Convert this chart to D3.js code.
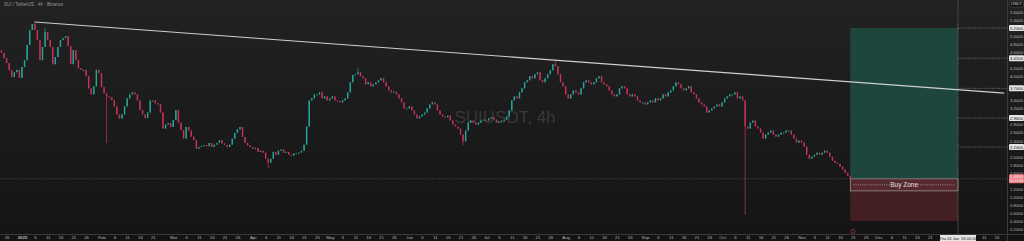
<!DOCTYPE html>
<html><head><meta charset="utf-8">
<script src="https://cdn.jsdelivr.net/npm/d3@7"></script>
<style>html,body{margin:0;padding:0;background:#181818;overflow:hidden}svg{display:block}</style>
</head><body><svg id="c" width="1024" height="241"></svg>
<script>
// ---------- DATA (daily closes, USDT) ----------
const startDate = "2024-12-23";
const closesDec24 = [4.65,4.58,4.45,4.33,4.15,3.98,4.10,4.16,3.96];
const closesJan = [4.23,4.40,4.78,5.15,5.30,5.15,4.90,4.40,4.73,5.10,4.90,4.73,4.30,4.48,4.73,4.90,4.95,5.00,4.75,4.30,4.65,4.40,4.20,4.16,4.16,4.00,3.70,3.55,3.75,4.16,4.08];
const closesFeb = [3.73,3.58,3.50,3.48,3.41,3.25,3.05,2.95,3.05,3.25,3.45,3.55,3.60,3.55,3.40,3.16,3.05,2.96,3.10,3.40,3.40,3.33,3.30,3.10,2.70,2.80,2.84,2.74];
const closesMar = [2.91,3.16,2.85,2.66,2.45,2.74,2.65,2.50,2.41,2.20,2.24,2.27,2.29,2.26,2.34,2.24,2.30,2.34,2.41,2.33,2.29,2.24,2.30,2.45,2.59,2.68,2.74,2.49,2.34,2.28,2.24];
const closesApr = [2.20,2.22,2.12,2.15,2.10,1.95,1.85,1.95,2.12,2.05,2.15,2.18,2.10,2.12,2.05,2.03,2.08,2.08,2.10,2.15,2.30,2.75,3.40,3.45,3.55,3.55,3.60,3.45,3.50,3.40];
const closesMay = [3.45,3.50,3.40,3.38,3.35,3.40,3.45,3.60,3.85,4.03,4.05,4.10,4.00,3.95,3.80,3.85,3.75,3.80,3.85,3.90,3.95,3.85,3.75,3.65,3.60,3.62,3.55,3.45,3.35,3.20,3.20];
const closesJun = [3.25,3.15,3.05,2.95,3.00,3.05,3.10,3.20,3.30,3.35,3.30,3.15,3.05,3.00,2.98,3.02,2.90,2.80,2.75,2.70,2.55,2.38,2.65,2.85,2.90,2.85,2.80,2.85,2.90,2.92];
const closesJul = [2.90,2.95,2.98,2.92,2.85,2.88,2.90,2.92,3.00,3.15,3.40,3.50,3.45,3.60,3.70,3.85,3.90,4.00,3.95,4.05,4.10,3.90,3.85,3.95,4.05,4.15,4.30,4.25,4.05,3.85,3.75];
const closesAug = [3.55,3.45,3.55,3.65,3.60,3.55,3.70,3.85,3.90,3.85,3.80,3.85,3.95,4.00,3.85,3.80,3.75,3.65,3.55,3.50,3.55,3.70,3.75,3.70,3.55,3.50,3.55,3.50,3.40,3.35,3.35];
const closesSep = [3.30,3.35,3.40,3.35,3.45,3.40,3.45,3.55,3.50,3.60,3.65,3.75,3.85,3.80,3.70,3.65,3.70,3.75,3.60,3.55,3.45,3.35,3.30,3.25,3.10,3.15,3.20,3.25,3.30,3.25];
const closesOct = [3.35,3.45,3.50,3.55,3.55,3.60,3.45,3.50,3.40,2.75,2.70,2.85,2.90,2.75,2.70,2.60,2.45,2.55,2.60,2.65,2.55,2.50,2.55,2.60,2.60,2.65,2.65,2.55,2.45,2.35,2.40];
const closesNov = [2.35,2.25,2.05,1.95,2.00,2.05,2.10,2.05,2.10,2.15,2.10,2.00,1.90,1.85,1.82,1.75,1.68,1.60,1.52,1.45];
const wickHighs = [["2025-01-06",5.37],["2025-01-10",5.20],["2025-05-12",4.20],["2025-07-28",4.40]];
const wickLows  = [["2025-02-03",2.34],["2025-04-07",1.72],["2025-06-22",2.28],["2025-10-10",0.56]];

const priceTicks = [5.6,5.4,5.2,5.0,4.8,4.6,4.4,4.2,4.0,3.8,3.6,3.4,3.2,3.0,2.8,2.6,2.4,2.2,2.0,1.8,1.6,1.4,1.2,1.0,0.8,0.6,0.4,0.2];
const levelPrices = [5.20,4.45,3.70,2.96,2.24];
const levelLabels = ["5.2000","4.4500","3.7000","2.9600","2.2400"];
const currentPrice = 1.45;
const currentLabel = ["1.4500","02:13:45"];
const trendPoints = [["2025-01-06",5.35],["2026-01-19",3.58]];
const tradeStart = "2025-11-20", tradeEnd = "2026-01-01";
const targetPrice = 5.20, stopPrice = 0.40, buyZoneLow = 1.15;
const monthNames = ["Jan","Feb","Mar","Apr","May","Jun","Jul","Aug","Sep","Oct","Nov","Dec"];
const dayMarks = [6,11,16,21,26];
const crosshairDate = "2026-01-01";
const crosshairLabel = "Thu 01 Jan '26   00:00";

// ---------- SETUP ----------
const W = 1024, H = 241, plotR = 1007, plotB = 234;
const parse = d3.utcParse("%Y-%m-%d");
const closes = [].concat(closesDec24,closesJan,closesFeb,closesMar,closesApr,closesMay,closesJun,closesJul,closesAug,closesSep,closesOct,closesNov);
const t0 = parse(startDate);
const hiMap = new Map(wickHighs.map(d=>[d[0],d[1]]));
const loMap = new Map(wickLows.map(d=>[d[0],d[1]]));
const fmtD = d3.utcFormat("%Y-%m-%d");
const candles = closes.map((c,i)=>{
  const date = d3.utcDay.offset(t0,i);
  const open = i>0 ? closes[i-1] : c;
  const k = fmtD(date);
  return {date, open, close:c,
    high: Math.max(open,c,hiMap.get(k)||0),
    low: Math.min(open,c,loMap.has(k)?loMap.get(k):Infinity)};
});

const x = d3.scaleUtc().domain([parse("2025-01-01"),parse("2026-01-01")]).range([22,958]);
const y = d3.scaleLinear().domain([5.35,0.55]).range([22,215]);

const svg = d3.select("#c");
const defs = svg.append("defs");
const g = defs.append("linearGradient").attr("id","bg").attr("x1",0).attr("y1",0).attr("x2",0).attr("y2",1);
g.append("stop").attr("offset","0%").attr("stop-color","#222222");
g.append("stop").attr("offset","100%").attr("stop-color","#141414");
defs.append("clipPath").attr("id","plot").append("rect").attr("x",0).attr("y",0).attr("width",plotR).attr("height",plotB);

svg.append("rect").attr("width",W).attr("height",H).attr("fill","url(#bg)");
svg.append("rect").attr("x",0).attr("y",plotB).attr("width",W).attr("height",H-plotB).attr("fill","#131313");

const font = "'Liberation Sans', Arial, sans-serif";

// watermark
svg.append("text").attr("x",505).attr("y",123).attr("text-anchor","middle")
  .attr("font-family",font).attr("font-size",17).attr("fill","#383838").text("SUIUSDT, 4h");
// header
svg.append("text").attr("x",4).attr("y",6).attr("font-family",font).attr("font-size",4.5)
  .attr("fill","#9a9a9a").text("SUI / TetherUS · 4h · Binance");

const plot = svg.append("g").attr("clip-path","url(#plot)");

// trade boxes
const bx0 = x(parse(tradeStart)), bx1 = x(parse(tradeEnd));
plot.append("rect").attr("x",bx0).attr("y",y(targetPrice)).attr("width",bx1-bx0)
  .attr("height",y(currentPrice)-y(targetPrice)).attr("fill","#1f463d");
plot.append("rect").attr("x",bx0).attr("y",y(currentPrice)).attr("width",bx1-bx0)
  .attr("height",y(stopPrice)-y(currentPrice)).attr("fill","#452023");
plot.append("rect").attr("x",bx0).attr("y",y(currentPrice)).attr("width",bx1-bx0)
  .attr("height",y(buyZoneLow)-y(currentPrice)).attr("fill","#56292d").attr("stroke","#a0a0a0").attr("stroke-width",0.7);
const bzMid = (y(currentPrice)+y(buyZoneLow))/2, bzC = (bx0+bx1)/2;
plot.append("line").attr("x1",bx0+3).attr("x2",bzC-14).attr("y1",bzMid).attr("y2",bzMid)
  .attr("stroke","#d0d0d0").attr("stroke-width",0.6).attr("stroke-dasharray","1,1.2");
plot.append("line").attr("x1",bzC+14).attr("x2",bx1-3).attr("y1",bzMid).attr("y2",bzMid)
  .attr("stroke","#d0d0d0").attr("stroke-width",0.6).attr("stroke-dasharray","1,1.2");
plot.append("text").attr("x",bzC).attr("y",bzMid+2.2).attr("text-anchor","middle")
  .attr("font-family",font).attr("font-size",6.5).attr("fill","#e0e0e0").text("Buy Zone");

// level dotted lines (from crosshair to axis)
const cx = x(parse(crosshairDate));
levelPrices.forEach(p=>{
  plot.append("line").attr("x1",cx).attr("x2",plotR).attr("y1",y(p)).attr("y2",y(p))
    .attr("stroke","#8a8a8a").attr("stroke-width",0.7).attr("stroke-dasharray","1.2,1.2");
});
// current price line
plot.append("line").attr("x1",0).attr("x2",plotR).attr("y1",y(currentPrice)).attr("y2",y(currentPrice))
  .attr("stroke","#5a5a5a").attr("stroke-width",0.7).attr("stroke-dasharray","1.5,1.5");
// crosshair vertical
plot.append("line").attr("x1",cx).attr("x2",cx).attr("y1",0).attr("y2",plotB)
  .attr("stroke","#8a8a8a").attr("stroke-width",0.7).attr("stroke-dasharray","1.2,1.2");

// candles
const up = "#26a69a", dn = "#c8325c";
const cg = plot.append("g");
cg.selectAll("line").data(candles).join("line")
  .attr("x1",d=>x(d.date)).attr("x2",d=>x(d.date))
  .attr("y1",d=>y(d.high)).attr("y2",d=>y(d.low))
  .attr("stroke",d=>d.close>=d.open?up:dn).attr("stroke-width",0.7);
cg.selectAll("rect").data(candles).join("rect")
  .attr("x",d=>x(d.date)-0.7).attr("width",1.4)
  .attr("y",d=>Math.min(y(d.open),y(d.close)))
  .attr("height",d=>Math.max(1,Math.abs(y(d.open)-y(d.close))))
  .attr("fill",d=>d.close>=d.open?up:dn);

// trendline
plot.append("line")
  .attr("x1",x(parse(trendPoints[0][0]))).attr("y1",y(trendPoints[0][1]))
  .attr("x2",x(parse(trendPoints[1][0]))).attr("y2",y(trendPoints[1][1]))
  .attr("stroke","#cfcfcf").attr("stroke-width",1.1);

// ---------- RIGHT PRICE AXIS ----------
svg.append("line").attr("x1",plotR+0.5).attr("x2",plotR+0.5).attr("y1",0).attr("y2",H).attr("stroke","#3a3a3a").attr("stroke-width",1);
const hlYs = levelPrices.map(y).concat([y(currentPrice)]);
const ticksShown = priceTicks.filter(p=>y(p)<plotB-2 && hlYs.every(v=>Math.abs(v-y(p))>5));
const ax = svg.append("g").attr("transform",`translate(${plotR+3},0)`)
  .call(d3.axisRight(y).tickValues(ticksShown).tickSize(0).tickPadding(0).tickFormat(d3.format(".4f")));
ax.select(".domain").remove();
ax.selectAll("text").attr("font-family",font).attr("font-size",4.3).attr("fill","#b8b8b8");

// highlighted labels
levelPrices.forEach((p,i)=>{
  svg.append("rect").attr("x",plotR+2).attr("y",y(p)-3).attr("width",15).attr("height",6).attr("rx",1).attr("fill","#e6e6e6");
  svg.append("text").attr("x",plotR+9.5).attr("y",y(p)+1.5).attr("text-anchor","middle").attr("font-family",font)
    .attr("font-size",4.3).attr("fill","#111").text(levelLabels[i]);
});
svg.append("rect").attr("x",plotR+2).attr("y",y(currentPrice)-4.5).attr("width",15).attr("height",9).attr("rx",1).attr("fill","#ec7a80");
svg.append("text").attr("x",plotR+9.5).attr("y",y(currentPrice)-0.5).attr("text-anchor","middle").attr("font-family",font)
  .attr("font-size",4.2).attr("fill","#fff").text(currentLabel[0]);
svg.append("text").attr("x",plotR+9.5).attr("y",y(currentPrice)+3.6).attr("text-anchor","middle").attr("font-family",font)
  .attr("font-size",3.6).attr("fill","#fff").text(currentLabel[1]);
// currency box
svg.append("rect").attr("x",plotR+2.5).attr("y",1).attr("width",14).attr("height",6).attr("rx",1).attr("fill","#111").attr("stroke","#555").attr("stroke-width",0.5);
svg.append("text").attr("x",plotR+9.5).attr("y",5.4).attr("text-anchor","middle").attr("font-family",font)
  .attr("font-size",4).attr("fill","#ddd").text("USDT");

// ---------- BOTTOM TIME AXIS ----------
svg.append("line").attr("x1",0).attr("x2",W).attr("y1",plotB+0.5).attr("y2",plotB+0.5).attr("stroke","#3a3a3a");
const tickDates = [];
for (let m = d3.utcMonth.floor(parse("2024-12-01")); m <= parse("2026-01-31"); m = d3.utcMonth.offset(m,1)) {
  tickDates.push(m);
  dayMarks.forEach(dd=>tickDates.push(d3.utcDay.offset(m,dd-1)));
}
const cbx0 = cx-18, cbx1 = cx+18;
const tVals = tickDates.filter(d=>{
  const px = x(d);
  if (px<3 || px>plotR-2) return false;
  if (px>cbx0-3 && px<cbx1+3) return false;
  if (d.getUTCDate()!==1) {
    const nextM = d3.utcMonth.ceil(d);
    if (x(nextM)-px < 10) return false;
  }
  return true;
});
const tAx = svg.append("g").attr("transform",`translate(0,${plotB})`)
  .call(d3.axisBottom(x).tickValues(tVals).tickSize(0).tickPadding(5)
    .tickFormat(d=> d.getUTCDate()===1 ? (d.getUTCMonth()===0 ? String(d.getUTCFullYear()) : monthNames[d.getUTCMonth()]) : String(d.getUTCDate())));
tAx.select(".domain").remove();
tAx.selectAll("text").attr("font-family",font).attr("font-size",4.3).attr("fill","#b8b8b8").attr("dy",0)
  .attr("font-weight",d=>d.getUTCDate()===1&&d.getUTCMonth()===0?"bold":"normal");
// crosshair date box
svg.append("rect").attr("x",cbx0).attr("y",plotB+1).attr("width",cbx1-cbx0).attr("height",6).attr("fill","#e6e6e6");
svg.append("text").attr("x",cx).attr("y",plotB+5.5).attr("text-anchor","middle").attr("font-family",font)
  .attr("font-size",4).attr("fill","#111").text(crosshairLabel);
// event marker
svg.append("circle").attr("cx",x(parse("2025-11-21"))).attr("cy",plotB-2.5).attr("r",2)
  .attr("fill","none").attr("stroke","#b0405c").attr("stroke-width",0.7);
</script></body></html>
